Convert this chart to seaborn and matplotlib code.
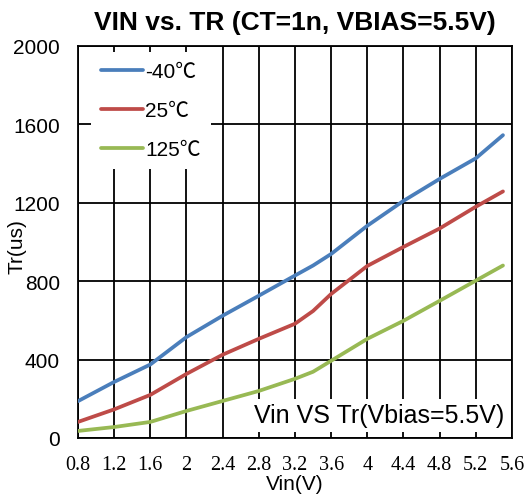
import pandas as pd
import matplotlib
matplotlib.use('Agg')
import matplotlib.pyplot as plt
import seaborn as sns

vin = [0.8, 1.2, 1.6, 2.0, 2.4, 2.8, 3.2, 3.4, 3.6, 4.0, 4.4, 4.8, 5.2, 5.5]
tr_m40 = [188, 286, 375, 515, 624, 726, 829, 880, 939, 1083, 1210, 1322, 1427, 1545]
tr_25 = [82, 146, 220, 327, 425, 506, 583, 648, 735, 878, 975, 1069, 1180, 1258]
tr_125 = [36, 56, 82, 138, 189, 240, 302, 338, 394, 506, 598, 700, 803, 880]
temps = ['-40℃', '25℃', '125℃']
colors = ['#4a7ebb', '#be4b48', '#98b954']

x_ticks = [0.8, 1.2, 1.6, 2, 2.4, 2.8, 3.2, 3.6, 4, 4.4, 4.8, 5.2, 5.6]
y_ticks = [0, 400, 800, 1200, 1600, 2000]

df = pd.DataFrame({
    'Vin': vin * 3,
    'Tr': tr_m40 + tr_25 + tr_125,
    'temp': [temps[0]] * len(vin) + [temps[1]] * len(vin) + [temps[2]] * len(vin),
})

sns.set_style('white')
plt.rcParams['font.family'] = ['Liberation Sans', 'Noto Sans CJK TC', 'DejaVu Sans']
plt.rcParams['text.color'] = 'black'
plt.rcParams['axes.labelcolor'] = 'black'
plt.rcParams['xtick.color'] = 'black'
plt.rcParams['ytick.color'] = 'black'

fig = plt.figure(figsize=(5.28, 5.02), dpi=100)
ax = fig.add_axes([0.1477, 0.1255, 0.8220, 0.7809])

sns.lineplot(data=df, x='Vin', y='Tr', hue='temp', hue_order=temps,
             palette=colors, linewidth=2.7, ax=ax, zorder=3)

ax.set_xlim(0.8, 5.6)
ax.set_ylim(0, 2000)
ax.set_xticks(x_ticks)
ax.set_xticklabels([f'{t:g}' for t in x_ticks], family='Liberation Serif', fontsize=14.5)
ax.set_yticks(y_ticks)
ax.set_yticklabels([str(t) for t in y_ticks], fontsize=15)
ax.tick_params(axis='x', length=0, pad=12)
ax.tick_params(axis='y', length=0, pad=13)
ax.grid(True, color='black', linewidth=1.3)
ax.set_axisbelow(True)
for s in ax.spines.values():
    s.set_color('black')
    s.set_linewidth(1.3)

ax.set_xlabel('Vin(V)', fontsize=15)
ax.xaxis.set_label_coords(0.5, -0.092)
ax.set_ylabel('Tr(us)', fontsize=15)
ax.yaxis.set_label_coords(-0.118, 0.49)
ax.set_title('VIN vs. TR (CT=1n, VBIAS=5.5V)', fontsize=19, fontweight='bold', pad=12)

leg = ax.legend(loc='upper left', bbox_to_anchor=(0.03, 0.985), frameon=True,
                facecolor='white', edgecolor='none', framealpha=1, fancybox=False,
                fontsize=15, handlelength=2.0, handletextpad=0.1, labelspacing=0.95,
                borderpad=0.5, borderaxespad=0)
leg.set_title(None)
for line in leg.get_lines():
    line.set_linewidth(2.7)

ax.text(0.983, 0.058, 'Vin VS Tr(Vbias=5.5V)', transform=ax.transAxes,
        ha='right', va='center', fontsize=18, zorder=5,
        bbox=dict(facecolor='white', edgecolor='none', pad=3))

fig.savefig('out.png', dpi=100)
